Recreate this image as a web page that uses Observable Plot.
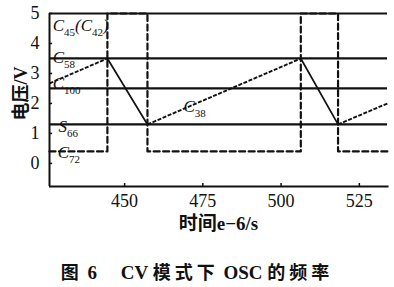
<!DOCTYPE html>
<html><head><meta charset="utf-8">
<script src="https://cdn.jsdelivr.net/npm/d3@7"></script>
<script src="https://cdn.jsdelivr.net/npm/@observablehq/plot@0.6"></script>
<style>
body{margin:0;background:#fff;position:relative;width:394px;height:287px;}
#chart svg{display:block;}
.caption{position:absolute;left:0;top:260px;width:394px;font-family:"Liberation Serif","Noto Sans CJK SC",serif;font-weight:bold;font-size:19px;text-align:center;line-height:22px;white-space:pre;color:#111;}
.caption .c{font-family:"Noto Sans CJK SC",sans-serif;letter-spacing:4px;font-size:18px;}
</style></head><body>
<div id="chart"></div>
<div class="caption"><span class="c">图</span> 6     CV <span class="c">模式下</span> OSC <span class="c">的频率</span></div>
<script>
// Oscillator timing in CV mode: comparator thresholds, ramp and pulse
const times = [426, 444.5, 457.3, 506.3, 518.2, 534];      // µs (e-6 s)
const rampVolts = [2.67, 3.5, 1.3, 3.5, 1.3, 2.0];         // C38 ramp
const pulseVolts = [0.4, 5, 0.4, 5, 0.4, 0.4];             // C45 / C72 pulse
const levelVolts = [5, 3.5, 2.5, 1.3];                     // threshold levels
const xTicks = [450, 475, 500, 525];
const yTicks = [0, 1, 2, 3, 4, 5];
const labelNames = ["C_45(C_42)", "C_58", "C_100", "S_66", "C_72", "C_38"];
const labelTimes = [427, 427, 427, 428.9, 428.6, 468.8];
const labelVolts = [4.6, 3.53, 2.67, 1.23, 0.37, 1.9];

const xMin = 426, xMax = 534, yMin = -0.77, yMax = 5;

const ramp = times.map((t, i) => ({t, v: rampVolts[i]}));
const segments = d3.pairs(ramp).map(([a, b]) => ({t1: a.t, v1: a.v, t2: b.t, v2: b.v, rising: b.v > a.v}));
// discharge edges as separate two-point series
const falling = segments.filter(d => !d.rising)
  .flatMap((d, k) => [{t: d.t1, v: d.v1, k}, {t: d.t2, v: d.v2, k}]);
const pulse = times.map((t, i) => ({t, v: pulseVolts[i]}));
const labels = labelNames.map((name, i) => ({name, t: labelTimes[i], v: labelVolts[i]}));

const ink = "#111";

const chart = Plot.plot({
  width: 394,
  height: 245,
  marginLeft: 49,
  marginRight: 7,
  marginTop: 13,
  marginBottom: 59,
  x: {domain: [xMin, xMax], axis: null},
  y: {domain: [yMin, yMax], axis: null},
  style: {fontFamily: "'Liberation Serif', serif", fontSize: "18px", color: ink, background: "white"},
  marks: [
    // threshold levels
    Plot.ruleY(levelVolts, {x1: xMin, x2: xMax, stroke: ink, strokeWidth: 2.2}),
    // pulse output
    Plot.line(pulse, {x: "t", y: "v", curve: "step-after", stroke: ink, strokeWidth: 2.2, strokeDasharray: "6,3.5"}),
    // ramp: charging (dashed) and discharging (solid)
    Plot.link(segments.filter(d => d.rising), {x1: "t1", y1: "v1", x2: "t2", y2: "v2", stroke: ink, strokeWidth: 1.9, strokeDasharray: "4,1.5"}),
    Plot.line(falling, {x: "t", y: "v", z: "k", stroke: ink, strokeWidth: 1.7}),
    // signal names
    Plot.text(labels, {x: "t", y: "v", text: "name", textAnchor: "start", lineAnchor: "middle", fontStyle: "italic", fontSize: 17, fill: ink}),
    // axes
    Plot.ruleX([xMin], {y1: yMin, y2: yMax, stroke: ink, strokeWidth: 2}),
    Plot.ruleY([yMin], {x1: xMin, x2: xMax + 0.5, stroke: ink, strokeWidth: 2}),
    Plot.ruleX(xTicks, {y1: yMin, y2: yMin + 0.1, stroke: ink, strokeWidth: 1.5}),
    Plot.ruleY(yTicks, {x1: xMin, x2: xMin + 1, stroke: ink, strokeWidth: 1.5}),
    Plot.text(xTicks, {x: d => d, y: () => yMin, dy: 15, text: d => String(d), lineAnchor: "middle", fontSize: 18, fill: ink}),
    Plot.text(yTicks, {x: () => xMin, y: d => d, dx: -10, text: d => String(d), textAnchor: "end", lineAnchor: "middle", fontSize: 18, fill: ink}),
    // axis titles
    Plot.text(["时间e−6/s"], {frameAnchor: "bottom", dy: 37, lineAnchor: "middle", fontWeight: "bold", fontSize: 19, fill: ink,
      fontFamily: "'Liberation Serif', 'Noto Sans CJK SC', serif"}),
    Plot.text(["电压/V"], {x: () => xMin, y: () => 2.33, dx: -28, rotate: -90, lineAnchor: "middle", fontWeight: "bold", fontSize: 18, fill: ink,
      fontFamily: "'Liberation Serif', 'Noto Sans CJK SC', serif"})
  ]
});

// render "X_nn" names with subscripts
d3.select(chart).selectAll("text").filter(function () { return /^[CS]_/.test(this.textContent); }).each(function () {
  const node = d3.select(this);
  const parts = this.textContent.split(/_(\d+)/);
  node.text(null);
  let shifted = false;
  parts.forEach((p, i) => {
    if (!p) return;
    const span = node.append("tspan").text(p);
    if (i % 2 === 1) {
      span.attr("font-size", 11).attr("font-style", "normal");
      if (!shifted) span.attr("dy", 5);
      shifted = true;
    } else if (shifted) {
      span.attr("dy", -5);
      shifted = false;
    }
  });
});

document.getElementById("chart").append(chart);
</script>
</body></html>
